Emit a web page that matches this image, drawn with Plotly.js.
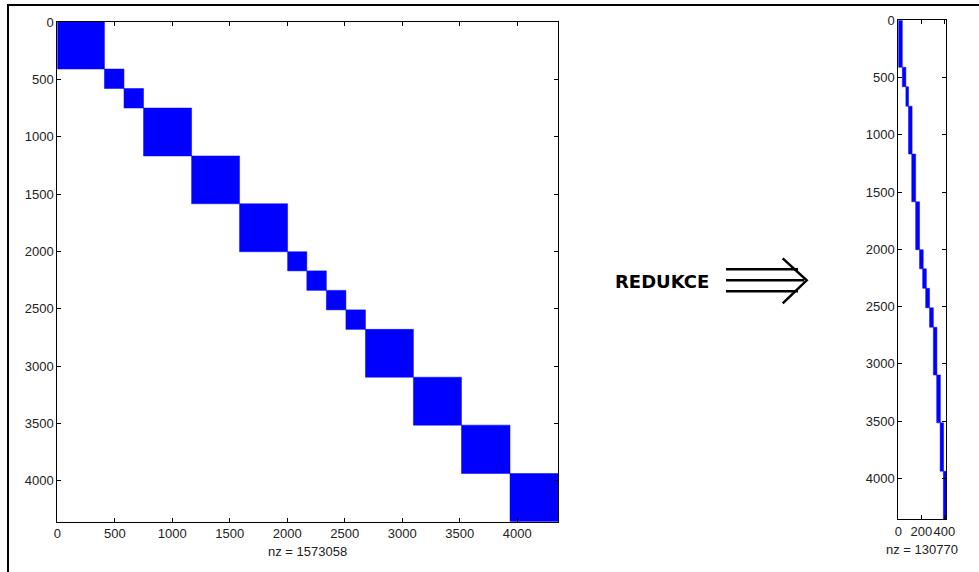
<!DOCTYPE html>
<html>
<head>
<meta charset="utf-8">
<script src="https://cdn.plot.ly/plotly-3.0.1.min.js"></script>
<style>html,body{margin:0;padding:0;background:#fff;}#chart{width:979px;height:572px;}</style>
</head>
<body>
<div id="chart"></div>
<script>
// Block boundaries (row/column indices) of the block-diagonal matrix
const blockBounds = [0, 410, 580, 750, 1168, 1585, 2003, 2170, 2340, 2510, 2680, 3097, 3515, 3937, 4357];
// Reduced matrix: column band occupied by each row block
const bandStart = [0, 35, 66, 89, 117, 151, 185, 212, 238, 272, 305, 334, 364, 392];
const bandEnd   = [35, 66, 89, 120, 151, 185, 217, 244, 272, 305, 336, 366, 394, 415];
const nzFull = 1573058;
const nzReduced = 130770;
const leftTicks = [0, 500, 1000, 1500, 2000, 2500, 3000, 3500, 4000];
const rightXTicks = [0, 200, 400];
const nFull = 4357;
const nReduced = 415;

const W = 979, H = 572;
const blue = '#0000ff';
const traces = [];
for (let i = 0; i < blockBounds.length - 1; i++) {
  const a = blockBounds[i], b = blockBounds[i + 1];
  traces.push({
    type: 'scatter', mode: 'lines', fill: 'toself', fillcolor: blue,
    line: {color: blue, width: 0.5}, hoverinfo: 'skip', showlegend: false,
    x: [a, b, b, a, a], y: [a, a, b, b, a], xaxis: 'x', yaxis: 'y'
  });
  const c0 = bandStart[i], c1 = bandEnd[i];
  traces.push({
    type: 'scatter', mode: 'lines', fill: 'toself', fillcolor: blue,
    line: {color: blue, width: 0.5}, hoverinfo: 'skip', showlegend: false,
    x: [c0, c1, c1, c0, c0], y: [a, a, b, b, a], xaxis: 'x2', yaxis: 'y2'
  });
}

const tickFont = {family: 'Liberation Sans, Arial, sans-serif', size: 13, color: '#222'};
const axBase = {
  showgrid: false, zeroline: false, showline: true, linecolor: '#000', linewidth: 1,
  ticks: 'inside', ticklen: 4, tickwidth: 1, tickcolor: '#000', mirror: 'ticks',
  tickmode: 'array', tickfont: tickFont, tickangle: 0, fixedrange: true
};

const layout = {
  width: W, height: H, margin: {l: 0, r: 0, t: 0, b: 0},
  paper_bgcolor: '#fff', plot_bgcolor: '#fff', showlegend: false,
  xaxis: Object.assign({}, axBase, {domain: [57.3 / W, 558.3 / W], range: [0, nFull], tickvals: leftTicks, ticktext: leftTicks.map(String), anchor: 'y'}),
  yaxis: Object.assign({}, axBase, {domain: [1 - 521.7 / H, 1 - 22 / H], range: [nFull, 0], tickvals: leftTicks, ticktext: leftTicks.map(String), anchor: 'x'}),
  xaxis2: Object.assign({}, axBase, {domain: [898.3 / W, 946 / W], range: [0, nReduced], tickvals: rightXTicks, ticktext: rightXTicks.map(String), anchor: 'y2'}),
  yaxis2: Object.assign({}, axBase, {domain: [1 - 519.3 / H, 1 - 20.3 / H], range: [nFull, 0], tickvals: leftTicks, ticktext: leftTicks.map(String), anchor: 'x2'}),
  annotations: [
    {xref: 'paper', yref: 'paper', x: 307.8 / W, y: 1 - 551 / H, xanchor: 'center', yanchor: 'middle', showarrow: false,
     text: 'nz = ' + nzFull, font: tickFont},
    {xref: 'paper', yref: 'paper', x: 922 / W, y: 1 - 549 / H, xanchor: 'center', yanchor: 'middle', showarrow: false,
     text: 'nz = ' + nzReduced, font: tickFont},
    {xref: 'paper', yref: 'paper', x: 662 / W, y: 1 - 281 / H, xanchor: 'center', yanchor: 'middle', showarrow: false,
     text: '<b>REDUKCE</b>', font: {family: 'DejaVu Sans, Arial, sans-serif', size: 18, color: '#000'}}
  ],
  shapes: [
    // frame
    {type: 'path', xref: 'paper', yref: 'paper', path: `M ${8/W} 0 L ${8/W} ${1-5/H} L 1 ${1-5/H}`, line: {color: '#000', width: 2}},
    // arrow shaft lines
    {type: 'line', xref: 'paper', yref: 'paper', x0: 726/W, x1: 798/W, y0: 1-269.3/H, y1: 1-269.3/H, line: {color: '#000', width: 2.5}},
    {type: 'line', xref: 'paper', yref: 'paper', x0: 726/W, x1: 804/W, y0: 1-280.3/H, y1: 1-280.3/H, line: {color: '#000', width: 2.5}},
    {type: 'line', xref: 'paper', yref: 'paper', x0: 726/W, x1: 798/W, y0: 1-291.3/H, y1: 1-291.3/H, line: {color: '#000', width: 2.5}},
    // arrow head
    {type: 'path', xref: 'paper', yref: 'paper', path: `M ${782.7/W} ${1-258.3/H} L ${806.7/W} ${1-280.3/H} L ${782.7/W} ${1-303.3/H}`, line: {color: '#000', width: 2.5}}
  ]
};

Plotly.newPlot('chart', traces, layout, {displayModeBar: false, staticPlot: true});
</script>
</body>
</html>
